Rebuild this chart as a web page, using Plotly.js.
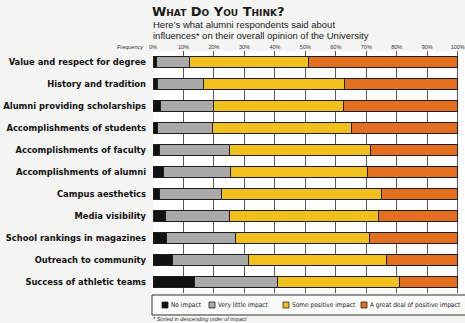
<!DOCTYPE html>
<html>
<head>
<meta charset="utf-8">
<script src="https://cdn.plot.ly/plotly-3.0.1.min.js"></script>
<style>html,body{margin:0;padding:0;background:#f4f4f2;}</style>
</head>
<body>
<div id="chart" style="width:465px;height:323px;"></div>
<script>
var categories = [
  "Value and respect for degree",
  "History and tradition",
  "Alumni providing scholarships",
  "Accomplishments of students",
  "Accomplishments of faculty",
  "Accomplishments of alumni",
  "Campus aesthetics",
  "Media visibility",
  "School rankings in magazines",
  "Outreach to community",
  "Success of athletic teams"
];
var seriesNames = ["No impact", "Very little impact", "Some positive impact", "A great deal of positive impact"];
var seriesColors = ["#111111", "#a9aaa8", "#f0c01c", "#e4701f"];
var noImpact      = [1,   1.5, 2.5, 1.5, 2,    3.5, 2,    4,  4.5, 6.5, 13.5];
var veryLittle    = [11,  15,  17.5, 18, 23,   22,  20.5, 21, 22.5, 25,  27.5];
var somePositive  = [39,  46.5, 42.5, 45.5, 46.5, 45, 52.5, 49, 44, 45,  40];
var greatDeal     = [49,  37,  37.5, 35, 28.5, 29.5, 25,  26, 29, 23.5, 19];
var tickVals = [0,10,20,30,40,50,60,70,80,90,100];
var tickText = ["0%","10%","20%","30%","40%","50%","60%","70%","80%","90%","100%"];

var values = [noImpact, veryLittle, somePositive, greatDeal];
var traces = values.map(function(v, i){
  return {
    type: "bar", orientation: "h", name: seriesNames[i],
    y: categories, x: v,
    marker: {color: seriesColors[i], line: {color: "#1e1e1e", width: 1}},
    hoverinfo: "x+name", showlegend: false
  };
});

var COND = "DejaVu Sans Condensed, DejaVu Sans, sans-serif";
var SANS = "Liberation Sans, Arial, sans-serif";

// plot area in pixels: x 153..465, y 51..293
var L = 153, R = 465, T = 51, B = 293;
function px(p){ return (p - L) / (R - L); }
function py(p){ return (B - p) / (B - T); }

var shapes = [{
  type: "rect", xref: "paper", yref: "paper",
  x0: px(152), x1: px(470), y0: py(295), y1: py(315),
  line: {color: "#333", width: 1}, fillcolor: "#fafaf8", layer: "above"
}];
var legendCenters = [165, 212, 286, 364];
var annotations = [];
seriesNames.forEach(function(n, i){
  var c = legendCenters[i];
  shapes.push({
    type: "rect", xref: "paper", yref: "paper",
    x0: px(c - 3), x1: px(c + 3), y0: py(302), y1: py(308),
    line: {color: "#222", width: 0.8}, fillcolor: seriesColors[i], layer: "above"
  });
  annotations.push({
    xref: "paper", yref: "paper", x: px(c + 4), y: py(305),
    xanchor: "left", yanchor: "middle", showarrow: false, text: n,
    font: {family: COND, size: 6.5, color: "#222"}
  });
});
annotations.push({
  xref: "paper", yref: "paper", x: px(151), y: py(24),
  xanchor: "left", yanchor: "middle", showarrow: false, align: "left",
  text: "Here\u2019s what alumni respondents said about",
  font: {family: SANS, size: 9.5, color: "#1a1a1a"}
});
annotations.push({
  xref: "paper", yref: "paper", x: px(151), y: py(35),
  xanchor: "left", yanchor: "middle", showarrow: false, align: "left",
  text: "influences* on their overall opinion of the University",
  font: {family: SANS, size: 9.5, color: "#1a1a1a"}
});
annotations.push({
  xref: "paper", yref: "paper", x: px(146), y: py(47),
  xanchor: "right", yanchor: "middle", showarrow: false,
  text: "Frequency",
  font: {family: SANS, size: 5.5, style: "italic", color: "#333"}
});
annotations.push({
  xref: "paper", yref: "paper", x: px(151), y: py(319),
  xanchor: "left", yanchor: "middle", showarrow: false,
  text: "* Sorted in descending order of impact",
  font: {family: SANS, size: 5.5, style: "italic", color: "#333"}
});

var layout = {
  width: 465, height: 323,
  margin: {l: L, r: 465 - R, t: T, b: 323 - B, pad: 0},
  paper_bgcolor: "#f4f4f2", plot_bgcolor: "#ffffff",
  barmode: "stack", bargap: 0.5,
  showlegend: false,
  title: {
    text: "What Do You Think?",
    x: 152/465, xanchor: "left", xref: "container",
    y: 1 - 11/323, yanchor: "middle", yref: "container",
    font: {family: "DejaVu Sans", size: 13, weight: "bold", variant: "small-caps", color: "#1a1a1a"}
  },
  xaxis: {
    side: "top", range: [0, 102.4], tickvals: tickVals, ticktext: tickText,
    showgrid: true, gridcolor: "#5a5a5a", gridwidth: 1,
    zeroline: false, showline: false, ticks: "", fixedrange: true,
    ticklabeloverflow: "allow",
    tickfont: {family: SANS, size: 5.5, color: "#333"}
  },
  yaxis: {
    type: "category", autorange: "reversed", showgrid: false, zeroline: false,
    showline: false, ticks: "", ticklabelstandoff: 6,
    tickfont: {family: COND, size: 9.3, weight: "bold", color: "#111"}
  },
  shapes: shapes,
  annotations: annotations
};

Plotly.newPlot("chart", traces, layout, {displayModeBar: false, staticPlot: true});
</script>
</body>
</html>
